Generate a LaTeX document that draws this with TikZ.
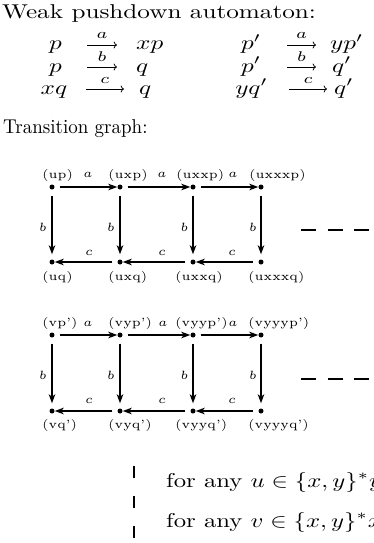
\documentclass[tikz,border=0pt]{standalone}
\usetikzlibrary{arrows.meta}
\newcommand{\mtxt}[1]{\scalebox{2.52}[2]{#1}}
\newcommand{\ttxt}[1]{\scalebox{1.9}[2]{#1}}
\newcommand{\btxt}[1]{\scalebox{2.47}[2]{#1}}
\newcommand{\mlab}[1]{\scalebox{2.4}{\fontsize{5}{6}\selectfont #1}}
\begin{document}
\begin{tikzpicture}[x=1pt,y=-1pt,
  txt/.style={inner sep=0pt, anchor=base west},
  mth/.style={inner sep=0pt, anchor=base},
  lab/.style={inner sep=0pt, anchor=base},
  llab/.style={inner sep=0pt, anchor=base west},
  dot/.style={circle, fill=black, inner sep=0pt, minimum size=5pt},
  arr/.style={line width=2pt, -{Stealth[length=9pt,width=6.5pt,inset=2.5pt]}},
  rarr/.style={line width=0.8pt, -{Computer Modern Rightarrow}},
  dsh/.style={line width=2.6pt, dash pattern=on 15pt off 11.5pt},
  vdsh/.style={line width=2.4pt, dash pattern=on 12pt off 18pt},
]
\useasboundingbox (0,0) rectangle (373,543);
\clip (0,0) rectangle (373,543);
% titles
\node[txt] (title) at (2,19) {\mtxt{Weak pushdown automaton:}};
\node[txt] (tg) at (3,133) {\ttxt{Transition graph:}};
% rules, left column
\node[mth] (l1) at (55.5,50) {\mtxt{$p$}};
\node[mth] (l2) at (55.5,72) {\mtxt{$p$}};
\node[mth] (l3) at (54,94) {\mtxt{$xq$}};
\node[txt] (r1) at (136,50) {\mtxt{$xp$}};
\node[txt] (r2) at (136,72) {\mtxt{$q$}};
\node[txt] (r3) at (139,94) {\mtxt{$q$}};
\coordinate (a1s) at (87,45); \coordinate (a1e) at (117,45);
\coordinate (a2s) at (87,67); \coordinate (a2e) at (117,67);
\coordinate (a3s) at (86,89); \coordinate (a3e) at (124,89);
\draw[rarr] (a1s) -- (a1e);
\draw[rarr] (a2s) -- (a2e);
\draw[rarr] (a3s) -- (a3e);
\node[mth] (la1) at (102,39) {\mtxt{$\scriptstyle a$}};
\node[mth] (la2) at (102,61) {\mtxt{$\scriptstyle b$}};
\node[mth] (la3) at (105,83) {\mtxt{$\scriptstyle c$}};
% rules, right column
\node[mth] (l4) at (251,50) {\mtxt{$p'$}};
\node[mth] (l5) at (251,72) {\mtxt{$p'$}};
\node[mth] (l6) at (251.5,94) {\mtxt{$yq'$}};
\node[txt] (r4) at (330,50) {\mtxt{$yp'$}};
\node[txt] (r5) at (332,72) {\mtxt{$q'$}};
\node[txt] (r6) at (334,94) {\mtxt{$q'$}};
\coordinate (a4s) at (287,45); \coordinate (a4e) at (316,45);
\coordinate (a5s) at (287,67); \coordinate (a5e) at (316,67);
\coordinate (a6s) at (289,89); \coordinate (a6e) at (327,89);
\draw[rarr] (a4s) -- (a4e);
\draw[rarr] (a5s) -- (a5e);
\draw[rarr] (a6s) -- (a6e);
\node[mth] (la4) at (301.5,39) {\mtxt{$\scriptstyle a$}};
\node[mth] (la5) at (301.5,61) {\mtxt{$\scriptstyle b$}};
\node[mth] (la6) at (308,83) {\mtxt{$\scriptstyle c$}};
% graph 1
\node[dot] (u0) at (52,187) {};
\node[dot] (u1) at (120,187) {};
\node[dot] (u2) at (193,187) {};
\node[dot] (u3) at (261,187) {};
\node[dot] (q0) at (52,262) {};
\node[dot] (q1) at (120,262) {};
\node[dot] (q2) at (193,262) {};
\node[dot] (q3) at (261,262) {};
\node[llab] (tu0) at (42,178) {\mlab{(up)}};
\node[llab] (tu1) at (108,178) {\mlab{(uxp)}};
\node[llab] (tu2) at (176,178) {\mlab{(uxxp)}};
\node[llab] (tu3) at (249,178) {\mlab{(uxxxp)}};
\node[llab] (tq0) at (42,280) {\mlab{(uq)}};
\node[llab] (tq1) at (108,280) {\mlab{(uxq)}};
\node[llab] (tq2) at (175,280) {\mlab{(uxxq)}};
\node[llab] (tq3) at (248,280) {\mlab{(uxxxq)}};
\draw[arr, shorten <=5pt] (u0) -- (u1);
\draw[arr, shorten <=5pt] (u1) -- (u2);
\draw[arr, shorten <=5pt] (u2) -- (u3);
\draw[arr, shorten <=5pt] (q1) -- (q0);
\draw[arr, shorten <=5pt] (q2) -- (q1);
\draw[arr, shorten <=5pt] (q3) -- (q2);
\draw[arr, shorten <=6pt, shorten >=5pt] (u0) -- (q0);
\draw[arr, shorten <=6pt, shorten >=5pt] (u1) -- (q1);
\draw[arr, shorten <=6pt, shorten >=5pt] (u2) -- (q2);
\draw[arr, shorten <=6pt, shorten >=5pt] (u3) -- (q3);
\node[lab] (ea1) at (88,177) {\mlab{$a$}};
\node[lab] (ea2) at (162,177) {\mlab{$a$}};
\node[lab] (ea3) at (233,177) {\mlab{$a$}};
\node[lab] (eb0) at (43,231) {\mlab{$b$}};
\node[lab] (eb1) at (111,231) {\mlab{$b$}};
\node[lab] (eb2) at (184.5,231) {\mlab{$b$}};
\node[lab] (eb3) at (253,231) {\mlab{$b$}};
\node[lab] (ec1) at (89,255) {\mlab{$c$}};
\node[lab] (ec2) at (162,255) {\mlab{$c$}};
\node[lab] (ec3) at (232,255) {\mlab{$c$}};
\coordinate (d1s) at (301,230); \coordinate (d1e) at (373,230);
\draw[dsh] (d1s) -- (d1e);
% graph 2
\node[dot] (v0) at (52,335) {};
\node[dot] (v1) at (120,335) {};
\node[dot] (v2) at (193,335) {};
\node[dot] (v3) at (261,335) {};
\node[dot] (w0) at (52,411) {};
\node[dot] (w1) at (120,411) {};
\node[dot] (w2) at (193,411) {};
\node[dot] (w3) at (261,411) {};
\node[llab] (tv0) at (42,326) {\mlab{(vp')}};
\node[llab] (tv1) at (108,326) {\mlab{(vyp')}};
\node[llab] (tv2) at (175,326) {\mlab{(vyyp')}};
\node[llab] (tv3) at (248,326) {\mlab{(vyyyp')}};
\node[llab] (tw0) at (42,428) {\mlab{(vq')}};
\node[llab] (tw1) at (108,428) {\mlab{(vyq')}};
\node[llab] (tw2) at (175,428) {\mlab{(vyyq')}};
\node[llab] (tw3) at (248,428) {\mlab{(vyyyq')}};
\draw[arr, shorten <=5pt] (v0) -- (v1);
\draw[arr, shorten <=5pt] (v1) -- (v2);
\draw[arr, shorten <=5pt] (v2) -- (v3);
\draw[arr, shorten <=5pt] (w1) -- (w0);
\draw[arr, shorten <=5pt] (w2) -- (w1);
\draw[arr, shorten <=5pt] (w3) -- (w2);
\draw[arr, shorten <=6pt, shorten >=5pt] (v0) -- (w0);
\draw[arr, shorten <=6pt, shorten >=5pt] (v1) -- (w1);
\draw[arr, shorten <=6pt, shorten >=5pt] (v2) -- (w2);
\draw[arr, shorten <=6pt, shorten >=5pt] (v3) -- (w3);
\node[lab] (fa1) at (88,326) {\mlab{$a$}};
\node[lab] (fa2) at (163,326) {\mlab{$a$}};
\node[lab] (fa3) at (233,326) {\mlab{$a$}};
\node[lab] (fb0) at (43,379) {\mlab{$b$}};
\node[lab] (fb1) at (111,379) {\mlab{$b$}};
\node[lab] (fb2) at (184.5,379) {\mlab{$b$}};
\node[lab] (fb3) at (253,379) {\mlab{$b$}};
\node[lab] (fc1) at (89,403) {\mlab{$c$}};
\node[lab] (fc2) at (162,403) {\mlab{$c$}};
\node[lab] (fc3) at (232,403) {\mlab{$c$}};
\coordinate (d2s) at (301,379); \coordinate (d2e) at (373,379);
\draw[dsh] (d2s) -- (d2e);
% bottom
\coordinate (v1s) at (134,466); \coordinate (v1e) at (134,543);
\draw[vdsh] (v1s) -- (v1e);
\node[txt] (f1) at (166,487) {\btxt{for any $u\in\{x,y\}^*y$}};
\node[txt] (f2) at (166,527) {\btxt{for any $v\in\{x,y\}^*x$}};
\end{tikzpicture}
\end{document}
